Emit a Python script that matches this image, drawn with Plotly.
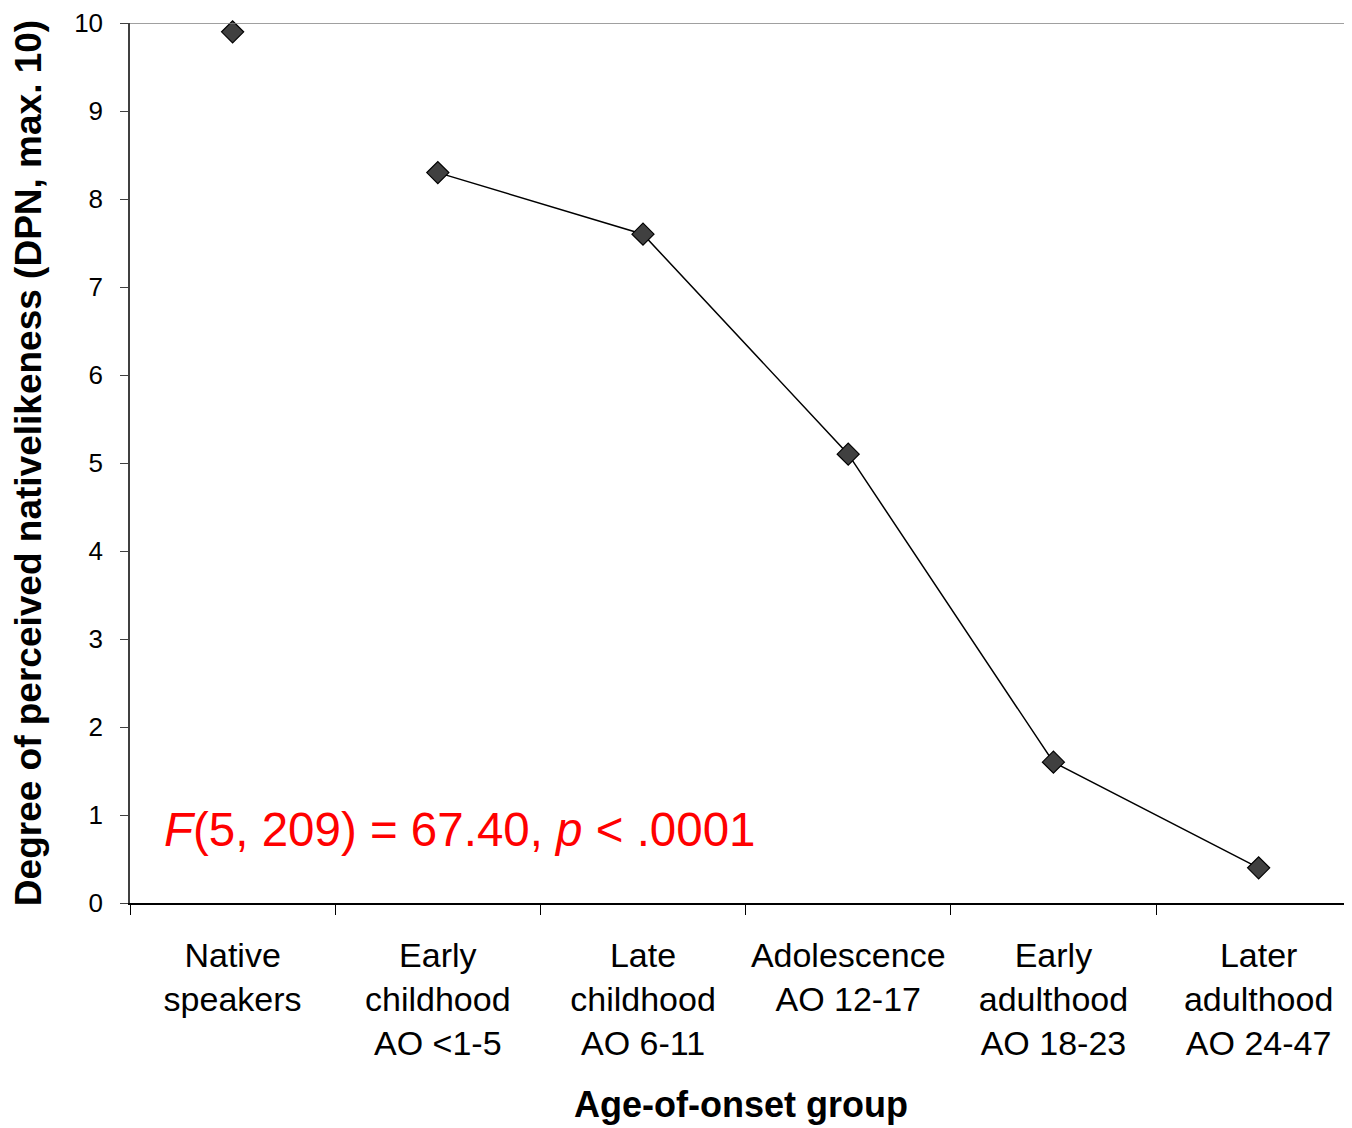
import plotly.graph_objects as go

categories = ["Native<br>speakers", "Early<br>childhood<br>AO <1-5", "Late<br>childhood<br>AO 6-11",
              "Adolescence<br>AO 12-17", "Early<br>adulthood<br>AO 18-23", "Later<br>adulthood<br>AO 24-47"]
native_value = [9.9]
learner_values = [8.3, 7.6, 5.1, 1.6, 0.4]
y_ticks = [0, 1, 2, 3, 4, 5, 6, 7, 8, 9, 10]

font_family = "Liberation Sans, Arial, sans-serif"
marker = dict(symbol="diamond", size=17, color="#404040", line=dict(color="black", width=1.2))

fig = go.Figure()
fig.add_trace(go.Scatter(x=categories[:1], y=native_value, mode="markers", marker=marker,
                         showlegend=False, cliponaxis=False))
fig.add_trace(go.Scatter(x=categories[1:], y=learner_values, mode="lines+markers",
                         line=dict(color="black", width=1.5), marker=marker, showlegend=False))

fig.add_shape(type="line", xref="paper", yref="y", x0=0, x1=1, y0=10, y1=10,
              line=dict(color="#808080", width=1.5))

fig.add_annotation(text="<i>F</i>(5, 209) = 67.40, <i>p</i> < .0001", xref="paper", yref="y",
                   x=(162 - 130) / 1222, y=0.83, xanchor="left", yanchor="middle", showarrow=False,
                   font=dict(family=font_family, size=47.5, color="#ff0000"))

fig.update_layout(
    width=1344, height=1120,
    margin=dict(l=122, r=0, t=13, b=225),
    plot_bgcolor="white", paper_bgcolor="white",
    font=dict(family=font_family, color="black"),
)
fig.update_xaxes(
    type="category", categoryorder="array", categoryarray=categories,
    range=[-0.5, 5.455], tickson="boundaries", ticks="outside", ticklen=10, tickwidth=1.2,
    tickcolor="black", showline=True, linecolor="black", linewidth=1.5, showgrid=False,
    tickfont=dict(size=34), zeroline=False, ticklabelstandoff=21,
    title=dict(text="<b>Age-of-onset group</b>", font=dict(size=36), standoff=31),
)
fig.update_yaxes(
    range=[0, 10], tickvals=y_ticks, ticks="outside", ticklen=8, tickwidth=1.2, tickcolor="#404040",
    showline=True, linecolor="#404040", linewidth=1.5, showgrid=False, zeroline=False,
    tickfont=dict(size=26), ticklabelstandoff=12, ticklabeloverflow="allow",
    title=dict(text="<b>Degree of perceived nativelikeness (DPN, max. 10)</b>", font=dict(size=37),
               standoff=31),
)

fig.write_html("out.html")
